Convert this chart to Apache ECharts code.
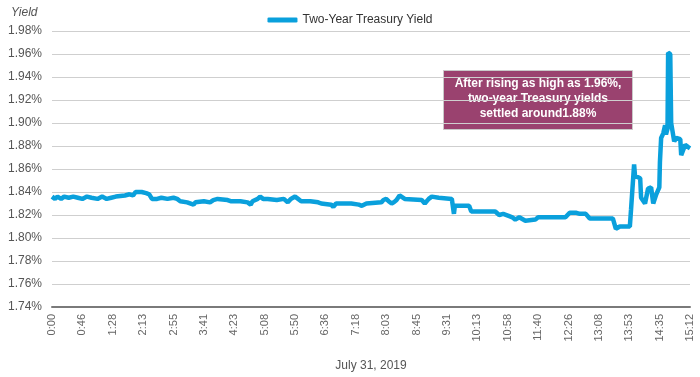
<!DOCTYPE html>
<html>
<head>
<meta charset="utf-8">
<script src="https://cdn.jsdelivr.net/npm/echarts@6/dist/echarts.min.js"></script>
<style>
  html, body { margin: 0; padding: 0; background: #fff; }
  #chart { width: 700px; height: 377px; }
</style>
</head>
<body>
<div id="chart"></div>
<script>
// tick labels on the time axis (evenly spaced)
var tickLabels = ['0:00','0:46','1:28','2:13','2:55','3:41','4:23','5:08','5:50','6:36','7:18',
  '8:03','8:45','9:31','10:13','10:58','11:40','12:26','13:08','13:53','14:35','15:12'];

// position of each reading along the axis (in tick units) and the yield
var xPos = [0,0.10,0.18,0.30,0.40,0.55,0.70,0.85,1.00,1.15,1.30,1.50,1.65,1.80,1.95,2.10,2.14,2.40,2.55,2.67,
  2.75,2.95,3.10,3.20,3.29,3.35,3.46,3.60,3.80,4.00,4.12,4.22,4.45,4.66,4.72,4.78,5.00,5.20,5.31,5.45,
  5.78,5.88,6.20,6.44,6.54,6.60,6.77,6.85,6.95,7.10,7.40,7.63,7.76,7.86,8.00,8.10,8.20,8.50,8.76,8.86,
  9.19,9.26,9.35,9.42,9.85,10.10,10.20,10.35,10.41,10.84,10.91,11.00,11.08,11.18,11.25,11.34,11.44,11.61,11.67,12.17,
  12.27,12.40,12.50,12.73,13.16,13.23,13.26,13.73,13.80,14.59,14.72,14.85,15.05,15.15,15.25,15.38,15.58,15.91,16.00,16.90,
  17.04,17.24,17.37,17.57,17.70,18.46,18.56,18.69,19.02,19.06,19.12,19.16,19.19,19.36,19.39,19.52,19.62,19.72,19.79,19.89,
  19.99,20.01,20.05,20.12,20.18,20.21,20.26,20.28,20.35,20.38,20.48,20.55,20.68,20.71,20.84,20.94,21.00];
var yields = [1.836,1.834,1.836,1.834,1.836,1.835,1.836,1.835,1.834,1.836,1.835,1.834,1.836,1.834,1.835,1.836,1.837,1.837,1.838,1.837,
  1.840,1.840,1.839,1.838,1.834,1.833,1.834,1.835,1.834,1.835,1.834,1.832,1.831,1.829,1.831,1.832,1.832,1.831,1.833,1.834,
  1.833,1.832,1.832,1.831,1.829,1.832,1.834,1.836,1.834,1.834,1.833,1.834,1.831,1.834,1.836,1.834,1.832,1.832,1.831,1.830,
  1.829,1.827,1.830,1.830,1.830,1.829,1.828,1.830,1.831,1.831,1.833,1.834,1.832,1.830,1.831,1.833,1.837,1.834,1.833,1.833,
  1.830,1.834,1.836,1.835,1.834,1.821,1.828,1.828,1.823,1.823,1.820,1.821,1.819,1.818,1.816,1.818,1.815,1.816,1.818,1.818,
  1.822,1.822,1.821,1.821,1.817,1.817,1.808,1.810,1.810,1.825,1.826,1.864,1.854,1.852,1.835,1.830,1.843,1.844,1.830,1.838,
  1.844,1.866,1.887,1.891,1.898,1.890,1.895,1.961,1.960,1.900,1.884,1.887,1.886,1.872,1.881,1.879,1.878];

var seriesName = 'Two-Year Treasury Yield';
var noteLines = ['After rising as high as 1.96%,', 'two-year Treasury yields', 'settled around1.88%'];

var data = xPos.map(function (x, i) { return [x, yields[i]]; });

var chart = echarts.init(document.getElementById('chart'));
var font = '"Liberation Sans", Arial, sans-serif';

chart.setOption({
  animation: false,
  textStyle: { fontFamily: font },
  grid: { left: 52, right: 10, top: 31, bottom: 66 },
  legend: {
    top: 9,
    left: 'center',
    icon: 'roundRect',
    itemWidth: 30,
    itemHeight: 5,
    textStyle: { color: '#333', fontSize: 12, fontFamily: font },
    data: [seriesName]
  },
  xAxis: {
    type: 'value',
    min: 0,
    max: 21,
    interval: 1,
    name: 'July 31, 2019',
    nameLocation: 'middle',
    nameGap: 53,
    nameTextStyle: { color: '#555', fontSize: 12 },
    axisLine: { lineStyle: { color: '#7a7a7a', width: 2 } },
    axisTick: { show: false },
    splitLine: { show: false },
    axisLabel: {
      rotate: 90,
      margin: 7,
      color: '#666',
      fontSize: 11,
      formatter: function (v) { return tickLabels[Math.round(v)]; }
    }
  },
  yAxis: {
    type: 'value',
    min: 1.74,
    max: 1.98,
    interval: 0.02,
    axisLine: { show: false },
    axisTick: { show: false },
    splitLine: { lineStyle: { color: '#cfcfcf', width: 1 } },
    axisLabel: {
      color: '#555',
      fontSize: 12,
      margin: 10,
      formatter: function (v) { return v.toFixed(2) + '%'; }
    }
  },
  series: [{
    name: seriesName,
    type: 'line',
    showSymbol: false,
    color: '#0aa0dc',
    lineStyle: { width: 4.5, color: '#0aa0dc' },
    data: data
  }],
  graphic: [
    {
      type: 'text',
      left: 11,
      top: 7,
      style: { text: 'Yield', font: 'italic 12px ' + font, fill: '#555' }
    },
    {
      type: 'group',
      left: 443,
      top: 70,
      children: [
        {
          type: 'rect',
          shape: { x: 0, y: 0, width: 189, height: 59 },
          style: { fill: '#9a426f', stroke: '#c9c9c9', lineWidth: 1 }
        },
        {
          type: 'text',
          x: 94.5,
          y: 28,
          style: {
            text: noteLines.join('\n'),
            font: 'bold 12px ' + font,
            fill: '#fff',
            align: 'center',
            verticalAlign: 'middle',
            lineHeight: 15
          }
        }
      ]
    }
  ]
});
</script>
</body>
</html>
